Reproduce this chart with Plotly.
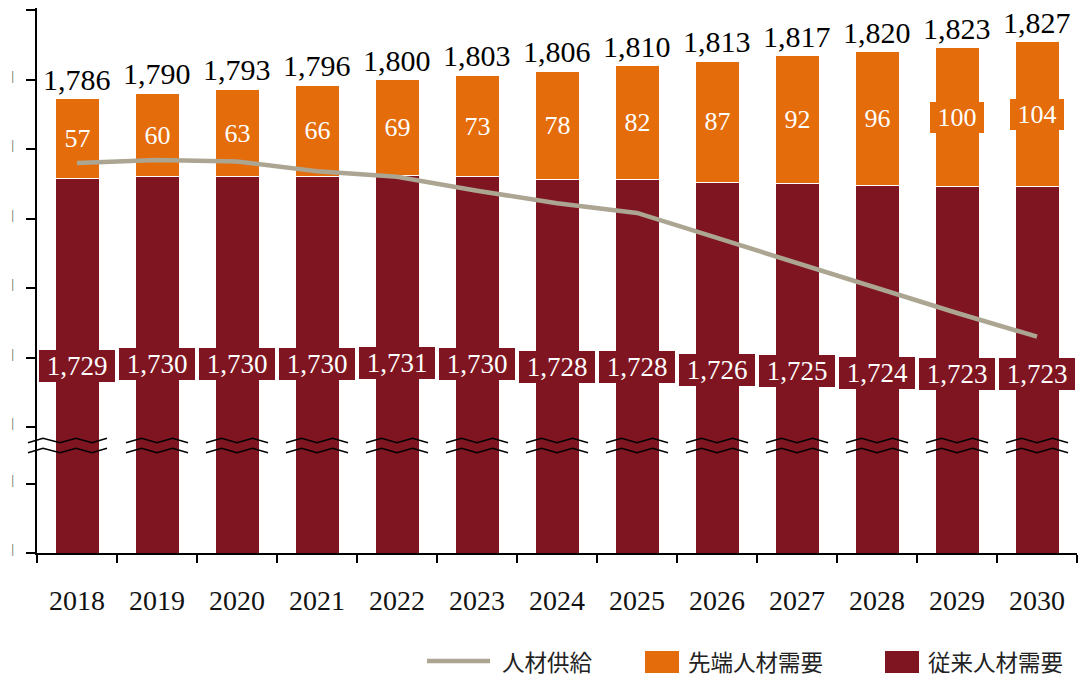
import plotly.graph_objects as go

# ---------------- data ----------------
years = ["2018", "2019", "2020", "2021", "2022", "2023", "2024",
         "2025", "2026", "2027", "2028", "2029", "2030"]
conventional = [1729, 1730, 1730, 1730, 1731, 1730, 1728, 1728, 1726, 1725, 1724, 1723, 1723]
advanced = [57, 60, 63, 66, 69, 73, 78, 82, 87, 92, 96, 100, 104]
totals = [1786, 1790, 1793, 1796, 1800, 1803, 1806, 1810, 1813, 1817, 1820, 1823, 1827]
supply = [1740, 1742, 1741, 1734, 1730, 1720, 1711, 1704, 1686, 1668, 1650, 1632, 1615]

top_ticks = [1550, 1600, 1650, 1700, 1750, 1800, 1850]
bottom_ticks = [0, 50]

names = ["人材供給", "先端人材需要", "従来人材需要"]

# ---------------- style ----------------
ORANGE = "#E46C0A"
DARKRED = "#7F1520"
LINEC = "#ABA592"
SERIF = "Liberation Serif"
CJK = "Noto Sans CJK JP"

W, H = 1087, 678
L, R, T, B = 37, 1077, 8, 553
BREAK_PX = 445
PX_PER_UNIT = 1.39

def pxx(px):
    return (px - L) / (R - L)

def pxy(py):
    return (B - py) / (B - T)

d = pxy(BREAK_PX)
top_lo = 1600 - (BREAK_PX - 357.5) / PX_PER_UNIT
top_hi = 1600 + (357.5 - T) / PX_PER_UNIT
bot_hi = (B - BREAK_PX) / PX_PER_UNIT
xrange = [-0.5, len(years) - 0.5]

fig = go.Figure()

# bottom (broken) part
fig.add_trace(go.Bar(x=years, y=conventional, xaxis="x2", yaxis="y2",
                     marker=dict(color=DARKRED, line=dict(color="white", width=1)),
                     width=0.55, showlegend=False, hoverinfo="skip"))
# top part
fig.add_trace(go.Bar(x=years, y=conventional, xaxis="x", yaxis="y", name=names[2],
                     marker=dict(color=DARKRED, line=dict(color="white", width=1)),
                     width=0.55, showlegend=False))
fig.add_trace(go.Bar(x=years, y=advanced, xaxis="x", yaxis="y", name=names[1],
                     marker=dict(color=ORANGE, line=dict(color="white", width=1)),
                     width=0.55, showlegend=False))
fig.add_trace(go.Scatter(x=years, y=supply, xaxis="x", yaxis="y", name=names[0],
                         mode="lines", line=dict(color=LINEC, width=4.5),
                         showlegend=False))

ann = []
nb = "\u00a0"
for i, yr in enumerate(years):
    ann.append(dict(x=i, y=totals[i], xref="x", yref="y", text=f"{totals[i]:,}",
                    showarrow=False, yanchor="bottom", yshift=1,
                    font=dict(family=SERIF, size=30, color="black")))
    ann.append(dict(x=i, y=conventional[i] + advanced[i] / 2, xref="x", yref="y",
                    text=f"{nb}{advanced[i]}{nb}", showarrow=False, yanchor="middle",
                    bgcolor=ORANGE, borderpad=1, borderwidth=0,
                    font=dict(family=SERIF, size=26, color="white")))
    ann.append(dict(x=i, y=conventional[i] - 135, xref="x", yref="y",
                    text=f"{nb}{conventional[i]:,}{nb}", showarrow=False, yanchor="middle",
                    bgcolor=DARKRED, borderpad=1, borderwidth=0,
                    font=dict(family=SERIF, size=27, color="white")))

# manual legend
legend_y = 661
shapes = []
shapes.append(dict(type="line", xref="paper", yref="paper",
                   x0=pxx(427), x1=pxx(490), y0=pxy(legend_y), y1=pxy(legend_y),
                   line=dict(color=LINEC, width=4.5)))
shapes.append(dict(type="rect", xref="paper", yref="paper",
                   x0=pxx(645), x1=pxx(679), y0=pxy(673), y1=pxy(651),
                   fillcolor=ORANGE, line=dict(width=0)))
shapes.append(dict(type="rect", xref="paper", yref="paper",
                   x0=pxx(885), x1=pxx(919), y0=pxy(673), y1=pxy(651),
                   fillcolor=DARKRED, line=dict(width=0)))
for xpx, txt in [(502, names[0]), (688, names[1]), (928, names[2])]:
    ann.append(dict(x=pxx(xpx), y=pxy(661), xref="paper", yref="paper", text=txt,
                    showarrow=False, xanchor="left", yanchor="middle", align="left",
                    borderpad=0, borderwidth=0,
                    font=dict(family=CJK, size=22.5, color="#222")))

# axis-break zigzags
n = len(years)
def catx(i, off_px):
    return (i + 0.5) / n + off_px / (R - L)

for i in range(n):
    if i == 0:
        offs = [-49, -34, -17, -1, 15, 30]
    else:
        offs = [-31, -15.5, 0, 15.5, 31]
    for base in (440.5, 450.5):
        pts = []
        for k, o in enumerate(offs):
            yy = base + (2.2 if k % 2 == 0 else -2.2)
            pts.append((catx(i, o), pxy(yy)))
        path = "M " + " L ".join(f"{a:.5f},{b:.5f}" for a, b in pts)
        shapes.append(dict(type="path", xref="paper", yref="paper", path=path,
                           line=dict(color="black", width=1.5)))

ytick_common = dict(showline=True, linecolor="black", linewidth=1.5,
                    ticks="outside", ticklen=9, tickcolor="black", tickwidth=1.5,
                    tickfont=dict(family=SERIF, size=12, color="#333"),
                    ticklabelstandoff=10, ticklabelshift=-4,
                    showgrid=False, zeroline=False)

fig.update_layout(
    width=W, height=H,
    margin=dict(l=L, r=W - R, t=T, b=H - B),
    paper_bgcolor="white", plot_bgcolor="white",
    barmode="stack",
    showlegend=False,
    xaxis=dict(anchor="y", domain=[0, 1], type="category", range=xrange,
               categoryorder="array", categoryarray=years,
               showline=False, showticklabels=False, ticks="", showgrid=False,
               zeroline=False, matches="x2"),
    xaxis2=dict(anchor="y2", domain=[0, 1], type="category", range=xrange,
                categoryorder="array", categoryarray=years,
                showline=True, linecolor="black", linewidth=1.5,
                ticks="outside", tickson="boundaries", ticklen=8, tickcolor="black",
                tickwidth=1.5, showgrid=False, tickangle=0,
                tickfont=dict(family=SERIF, size=28, color="#111"),
                ticklabelstandoff=22),
    yaxis=dict(domain=[d, 1], anchor="x", range=[top_lo, top_hi],
               tickvals=top_ticks, ticktext=["|"] * len(top_ticks), **ytick_common),
    yaxis2=dict(domain=[0, d], anchor="x2", range=[0, bot_hi],
                tickvals=bottom_ticks, ticktext=["|"] * len(bottom_ticks), **ytick_common),
    annotations=ann,
    shapes=shapes,
)

fig.write_html("out.html")
